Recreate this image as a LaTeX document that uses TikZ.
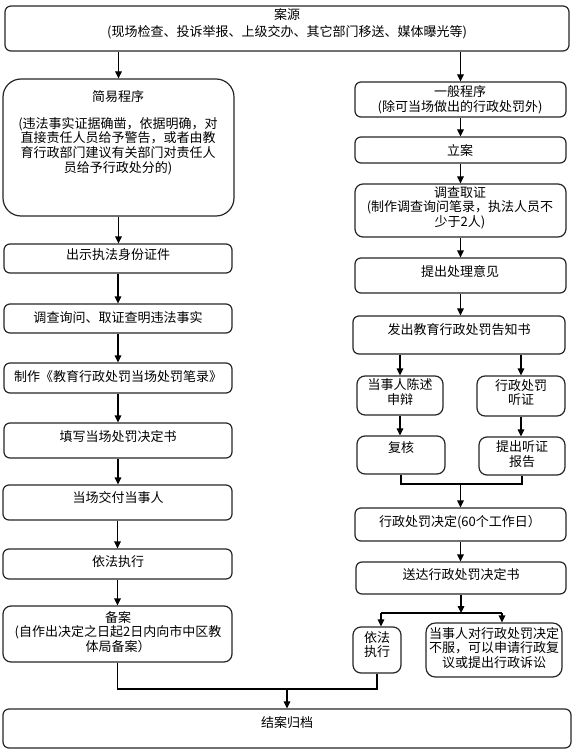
\documentclass[tikz,border=0pt]{standalone}
\usepackage{fontspec}
\newfontfamily\cjk{Noto Sans CJK SC}
\usetikzlibrary{arrows.meta}
\tikzset{
  box/.style={draw=black!85, line width=0.9pt, inner sep=0pt},
  txt/.style={align=center, inner sep=0pt, font=\cjk\fontsize{9.75}{10.9}\selectfont},
  conn/.style={line width=0.8pt, draw=black},
  arr/.style={conn, -{Triangle[length=5.2pt,width=5pt]}},
}
\newcommand\mybox[6]{\node[box, rounded corners=#6, minimum width={(#4-#2)*0.75pt}, minimum height={(#5-#3)*0.75pt}] (#1) at ({(#2+#4)/2},{(#3+#5)/2}) {};}
\begin{document}
\begin{tikzpicture}[x=0.75pt,y=-0.75pt]
\fill[white] (0,0) rectangle (575,752);
\useasboundingbox (0,0) rectangle (575,752);
% boxes
\mybox{src}{5}{6}{569}{51}{4.5pt}
\mybox{jy}{3}{79}{234}{216}{13.5pt}
\mybox{cs}{4}{244}{232}{273}{4.5pt}
\mybox{dc}{4}{304}{232}{333}{4.5pt}
\mybox{zz}{4}{363}{232}{393}{4.5pt}
\mybox{tx}{4}{423}{232}{458}{4.5pt}
\mybox{jf}{3}{485}{232}{520}{4.5pt}
\mybox{yf}{3}{549}{232}{579}{4.5pt}
\mybox{ba}{3}{606}{232}{662}{6pt}
\mybox{ja}{3}{709}{571}{748}{4.5pt}
\mybox{yb}{355}{82}{566}{117}{4.5pt}
\mybox{la}{355}{137}{566}{163}{4.5pt}
\mybox{dq}{355}{184}{566}{237}{6pt}
\mybox{tc}{355}{258}{566}{293}{4.5pt}
\mybox{fc}{353}{316}{565}{354}{4.5pt}
\mybox{cs2}{357}{376}{443}{415}{6pt}
\mybox{tz}{477}{376}{565}{416}{6pt}
\mybox{fh}{357}{436}{445}{474}{6pt}
\mybox{tb}{479}{437}{565}{475}{6pt}
\mybox{xj}{355}{508}{566}{541}{4.5pt}
\mybox{sd}{356}{562}{566}{594}{4.5pt}
\mybox{yf2}{353}{627}{401}{673}{6pt}
\mybox{bf}{426}{623}{562}{677}{7pt}
% texts
\node[txt, font=\cjk\fontsize{9.75}{12.5}\selectfont] (t-src) at (287,24) {案源\\(现场检查、投诉举报、上级交办、其它部门移送、媒体曝光等)};
\node[txt] (t-jy1) at (118,97) {简易程序};
\node[txt] (t-jy2) at (118,146) {(违法事实证据确凿，依据明确，对\\直接责任人员给予警告，或者由教\\育行政部门建议有关部门对责任人\\员给予行政处分的)};
\node[txt] (t-cs) at (118,255) {出示执法身份证件};
\node[txt] (t-dc) at (118,318) {调查询问、取证查明违法事实};
\node[txt] (t-zz) at (118,377) {制作《教育行政处罚当场处罚笔录》};
\node[txt] (t-tx) at (118,437) {填写当场处罚决定书};
\node[txt] (t-jf) at (118,498) {当场交付当事人};
\node[txt] (t-yf) at (118,562) {依法执行};
\node[txt] (t-ba) at (118,632) {备案\\(自作出决定之日起2日内向市中区教\\体局备案）};
\node[txt] (t-ja) at (287,723) {结案归档};
\node[txt] (t-yb) at (460,100) {一般程序\\(除可当场做出的行政处罚外)};
\node[txt] (t-la) at (460,151) {立案};
\node[txt] (t-dq) at (460,207.5) {调查取证\\(制作调查询问笔录，执法人员不\\少于2人)};
\node[txt] (t-tc) at (460,272) {提出处理意见};
\node[txt] (t-fc) at (459,330) {发出教育行政处罚告知书};
\node[txt] (t-cs2) at (400,392) {当事人陈述\\申辩};
\node[txt] (t-tz) at (521,392.5) {行政处罚\\听证};
\node[txt] (t-fh) at (401,448) {复核};
\node[txt] (t-tb) at (522,454) {提出听证\\报告};
\node[txt] (t-xj) at (460,522) {行政处罚决定(60个工作日）};
\node[txt] (t-sd) at (461,575) {送达行政处罚决定书};
\node[txt] (t-yf2) at (377,644.5) {依法\\执行};
\node[txt] (t-bf) at (494,648) {当事人对行政处罚决定\\不服，可以申请行政复\\议或提出行政诉讼};
% connectors
\draw[arr] (src.south -| jy.north) -- (jy.north);
\draw[arr] (src.south -| yb.north) -- (yb.north);
\draw[arr] (jy.south) -- (jy.south |- cs.north);
\draw[arr] (cs.south) -- (dc.north);
\draw[arr] (dc.south) -- (zz.north);
\draw[arr] (zz.south) -- (tx.north);
\draw[arr] (tx.south) -- (tx.south |- jf.north);
\draw[arr] (jf.south) -- (yf.north);
\draw[arr] (yf.south) -- (ba.north);
\draw[arr] (yb.south) -- (la.north);
\draw[arr] (la.south) -- (dq.north);
\draw[arr] (dq.south) -- (tc.north);
\draw[arr] (tc.south) -- (tc.south |- fc.north);
\draw[arr] (fc.south -| cs2.north) -- (cs2.north);
\draw[arr] (fc.south -| tz.north) -- (tz.north);
\draw[arr] (cs2.south) -- (cs2.south |- fh.north);
\draw[arr] (tz.south) -- (tz.south |- tb.north);
\coordinate (m1) at (460.5,484);
\draw[conn] (fh.south) -- (fh.south |- m1) -- (tb.south |- m1) -- (tb.south);
\draw[arr] (m1) -- (m1 |- xj.north);
\draw[arr] (xj.south) -- (xj.south |- sd.north);
\coordinate (jc) at (461,613);
\coordinate (jl) at (381,613);
\coordinate (jr) at (502,613);
\draw[arr] (sd.south -| jc) -- (jc);
\draw[conn] (jl) -- (jr);
\draw[arr] (jl) -- (jl |- yf2.north);
\draw[arr] (jr) -- (jr |- bf.north);
\coordinate (b1) at (287,689);
\draw[conn] (ba.south) -- (ba.south |- b1) -- (yf2.south |- b1) -- (yf2.south);
\draw[arr] (ja.north |- b1) -- (ja.north);
\end{tikzpicture}
\end{document}
